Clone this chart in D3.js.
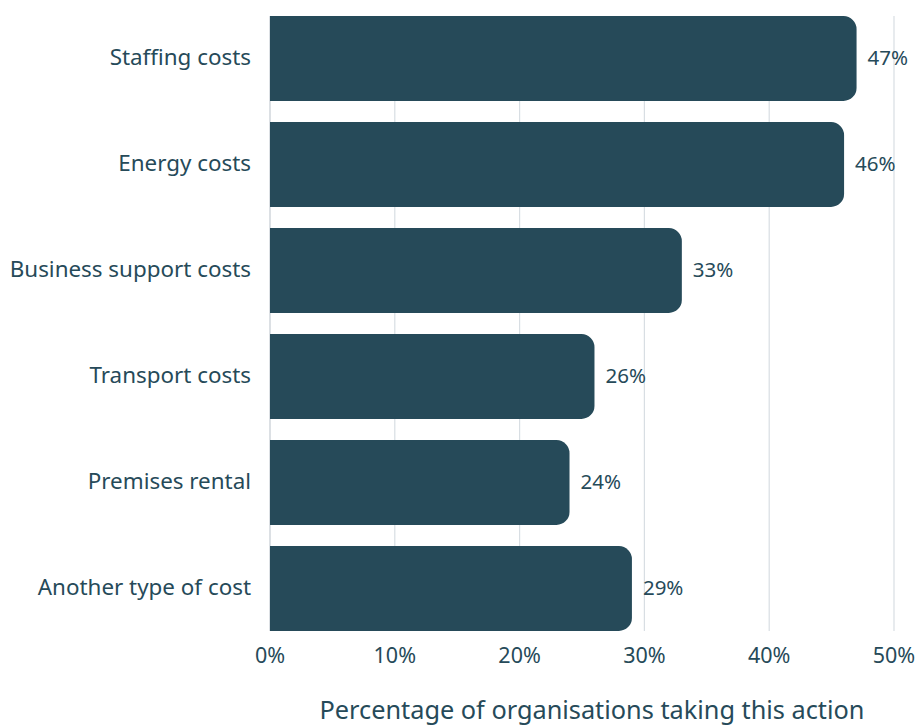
<!DOCTYPE html>
<html><head><meta charset="utf-8">
<script src="https://cdn.jsdelivr.net/npm/d3@7/dist/d3.min.js"></script>
<style>
html,body{margin:0;padding:0;background:#fff;overflow:hidden}
text{font-family:"Noto Sans","Open Sans",sans-serif;fill:#264a59}
</style></head><body>
<svg id="chart" width="917" height="725"></svg>
<script>
const categories = ["Staffing costs","Energy costs","Business support costs","Transport costs","Premises rental","Another type of cost"];
const values = [47,46,33,26,24,29];
const ticks = [0,10,20,30,40,50];
const axisTitle = "Percentage of organisations taking this action";

const svg = d3.select("#chart");
const x = d3.scaleLinear().domain([0,50]).range([270,894]);
const y = d3.scaleBand().domain(categories).range([5.5,641.5]).paddingInner(0.2).paddingOuter(0.1);
const barColor = "#264a59";
const r = 13;

// gridlines
svg.append("g").selectAll("line").data(ticks).join("line")
  .attr("x1",d=>x(d)).attr("x2",d=>x(d))
  .attr("y1",y(categories[0])).attr("y2",y(categories[categories.length-1])+y.bandwidth())
  .attr("stroke",d=>d===0?"#c5ccd2":"#d8dee3").attr("stroke-width",1.2);

// bars with rounded right corners
function barPath(x0,x1,y0,h){
  const rr = Math.min(r,(x1-x0),h/2);
  return `M${x0},${y0}H${x1-rr}A${rr},${rr} 0 0 1 ${x1},${y0+rr}V${y0+h-rr}A${rr},${rr} 0 0 1 ${x1-rr},${y0+h}H${x0}Z`;
}
const data = categories.map((c,i)=>({c,v:values[i]}));
svg.append("g").selectAll("path").data(data).join("path")
  .attr("d",d=>barPath(x(0),x(d.v),y(d.c),y.bandwidth()))
  .attr("fill",barColor);

// value labels
svg.append("g").selectAll("text").data(data).join("text")
  .attr("x",d=>x(d.v)+11).attr("y",d=>y(d.c)+y.bandwidth()/2)
  .attr("dy","0.3em").attr("font-size",20.5).text(d=>d.v+"%");

// category labels
svg.append("g").selectAll("text").data(data).join("text")
  .attr("x",251).attr("y",d=>y(d.c)+y.bandwidth()/2)
  .attr("dy","0.3em").attr("text-anchor","end").attr("font-size",22.4).text(d=>d.c);

// x tick labels
svg.append("g").selectAll("text").data(ticks).join("text")
  .attr("x",d=>x(d)).attr("y",657).attr("dy","0.3em")
  .attr("text-anchor","middle").attr("font-size",21.5).text(d=>d+"%");

// axis title
svg.append("text").attr("x",592).attr("y",719).attr("text-anchor","middle")
  .attr("font-size",25.3).text(axisTitle);
</script>
</body></html>
